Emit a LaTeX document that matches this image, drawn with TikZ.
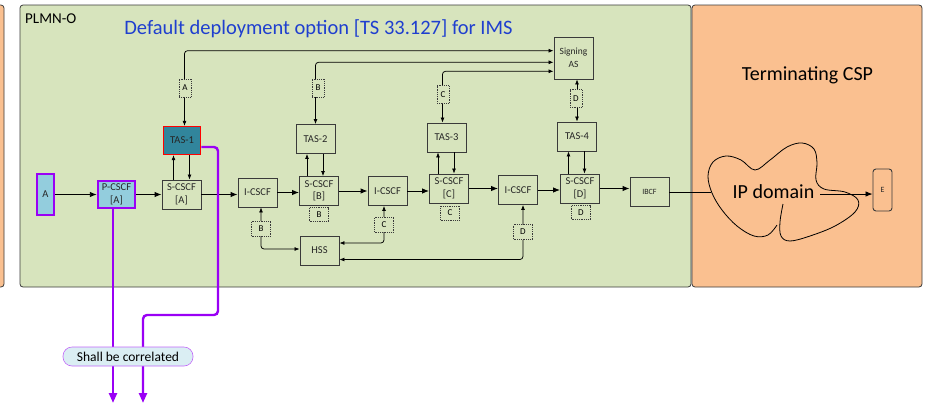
\documentclass[tikz,border=0pt]{standalone}
\usepackage{fontspec}
\setmainfont{Carlito}
\usepackage{xcolor}
\usetikzlibrary{arrows.meta,calc}
\definecolor{plmngreen}{HTML}{D7E4BD}
\definecolor{cspor}{HTML}{FAC090}
\definecolor{titleblue}{HTML}{1F3FCF}
\definecolor{ueblue}{HTML}{93CDDD}
\definecolor{tasteal}{HTML}{31859C}
\definecolor{lipurple}{HTML}{9A00F5}
\definecolor{noteblue}{HTML}{DAEEF3}
\definecolor{edge}{HTML}{3A3A3A}

\begin{document}
\begin{tikzpicture}[
  x=1pt,
  y=-1pt,
  box/.style={draw=edge, line width=0.9pt, minimum width=39pt, minimum height=29pt, inner sep=0pt, align=center, text=black!85, font=\fontsize{10.5}{12.5}\selectfont},
  lblv/.style={draw=edge, densely dotted, line width=0.8pt, fill=plmngreen, minimum width=12pt, minimum height=18pt, inner sep=0pt, font=\fontsize{9}{9}\selectfont},
  lblh/.style={lblv, minimum width=19pt, minimum height=15pt},
  arr/.style={-{Latex[length=7pt,width=5.5pt]}, line width=0.9pt},
  link/.style={{Latex[length=5pt,width=4pt]}-{Latex[length=5pt,width=4pt]}, line width=0.75pt, rounded corners=3pt},
  sarr/.style={-{Latex[length=5pt,width=4pt]}, line width=0.75pt},
  pline/.style={draw=lipurple, line width=2.4pt, rounded corners=4pt, -{Triangle[length=10pt,width=8pt]}}
]
\useasboundingbox (0,0) rectangle (927,405);

\draw[fill=cspor, draw=edge, line width=0.8pt, rounded corners=3pt] (-20,5) rectangle (4,287);
\draw[fill=plmngreen, draw=edge, line width=0.8pt, rounded corners=3pt] (20,5) rectangle (691,287);
\draw[fill=cspor, draw=edge, line width=0.8pt, rounded corners=3pt] (692,5) rectangle (922,287);

\node[anchor=base west, inner sep=0pt, font=\fontsize{15}{18}\selectfont] (plmn) at (25,23) {PLMN-O};
\node[anchor=base, inner sep=0pt, text=titleblue, font=\fontsize{20.5}{24}\selectfont] (title) at (318.5,34) {Default deployment option [TS 33.127] for IMS};
\node[anchor=base, inner sep=0pt, font=\fontsize{20}{24}\selectfont] (term) at (807.5,80) {Terminating CSP};

\node[box, draw=lipurple, line width=2.4pt, fill=ueblue, minimum width=17pt, minimum height=40.5pt] (ueA) at (45.5,194.5) {A};
\node[box, draw=lipurple, line width=2.4pt, fill=ueblue, minimum width=37pt, minimum height=27pt] (pcscf) at (116.5,194.5) {P-CSCF\\{[A]}};
\node[box] (scA) at (181.5,194.5) {S-CSCF\\{[A]}};
\node[box, draw=red, line width=1.3pt, fill=tasteal, minimum width=37.5pt, minimum height=28pt] (tas1) at (182,140.5) {TAS-1};
\node[box] (icA) at (257.5,192.5) {I-CSCF};
\node[box] (scB) at (319,191) {S-CSCF\\{[B]}};
\node[box] (tas2) at (315.5,139) {TAS-2};
\node[box] (icB) at (387.5,191) {I-CSCF};
\node[box] (scC) at (449,188.5) {S-CSCF\\{[C]}};
\node[box] (tas3) at (446.5,137.5) {TAS-3};
\node[box] (icC) at (518,190) {I-CSCF};
\node[box] (scD) at (580,188.5) {S-CSCF\\{[D]}};
\node[box] (tas4) at (577,136.5) {TAS-4};
\node[box, minimum height=42pt, font=\fontsize{9.5}{13}\selectfont] (sas) at (573.5,58) {Signing\\AS};
\node[box, font=\fontsize{8}{9}\selectfont] (ibcf) at (649.5,192) {IBCF};
\node[box] (hss) at (319.5,250.5) {HSS};
\node[box, rounded corners=3pt, minimum width=19pt, minimum height=42pt, font=\fontsize{8}{9}\selectfont] (ueE) at (882.5,190) {E};

\draw[line width=0.8pt] plot[smooth, tension=0.6] coordinates {(783,204) (780,222) (781,236) (790,241) (810,236) (835,226) (855,212) (858,200) (845,192) (824,189) (816,180) (817,163) (814,149) (802,143) (787,147) (770,160) (755,170) (741,160) (726,156) (713,162) (708,176) (712,193) (722,210) (737,226) (754,236) (768,235) (777,225)};
\node[anchor=base, inner sep=0pt, font=\fontsize{20}{24}\selectfont] (ipd) at (773.5,198) {IP domain};
\coordinate (cin) at (711,192);
\coordinate (cout) at (820,194);

\foreach \a/\b in {ueA/pcscf, pcscf/scA, scA/icA, icA/scB, scB/icB, icB/scC, scC/icC, icC/scD, scD/ibcf}
  \draw[arr] (\a.east) -- (\a.east -| \b.west);
\foreach \sc/\ta in {scA/tas1, scB/tas2, scC/tas3, scD/tas4} {
  \draw[sarr] ([xshift=-8.5pt]\ta.south |- \sc.north) -- ([xshift=-8.5pt]\ta.south);
  \draw[sarr] ([xshift=7.5pt]\ta.south) -- ([xshift=7.5pt]\ta.south |- \sc.north);
}
\draw[line width=0.8pt] (ibcf.east) -- (cin);
\draw[arr, line width=0.8pt] (cout) -- (cout -| ueE.west);

\draw[link] ([xshift=2.5pt]tas1.north) |- ([yshift=7.3pt]sas.west);
\draw[link] (tas2.north) |- ([yshift=-4.3pt]sas.west);
\draw[link] ([xshift=-4pt]tas3.north) |- ([yshift=-13.3pt]sas.west);
\draw[link] (tas4.north) -- (tas4.north |- sas.south);
\draw[link] ([xshift=3.5pt]icA.south) |- ([yshift=1.5pt]hss.west);
\draw[link] ([xshift=-3.5pt]icB.south) |- ([yshift=7.5pt]hss.east);
\draw[link] ([xshift=5pt]icC.south) |- ([yshift=-9pt]hss.east);

\node[lblv] (lA) at (185,88) {A};
\node[lblv] (lB) at (318,88) {B};
\node[lblv] (lC) at (443,94.5) {C};
\node[lblv] (lD) at (576,98.5) {D};
\node[lblh] (hB) at (261,228.5) {B};
\node[lblh] (hC) at (384,224.5) {C};
\node[lblh] (hD) at (523,232) {D};
\node[lblh, minimum height=14pt] (sB) at (319,214.5) {B};
\node[lblh, minimum height=14pt] (sC) at (450,213) {C};
\node[lblh, minimum height=14pt] (sD) at (581,212.5) {D};

\coordinate (pend1) at (113,403);
\coordinate (pend2) at (143,403);
\coordinate (pbend) at (218,315);
\draw[pline] (pcscf.south -| pend1) -- (pend1);
\draw[pline] ([yshift=-6.5pt]tas1.east) -| (pbend) -| (pend2);
\node[draw=lipurple!60, line width=0.6pt, fill=noteblue, rounded corners=9pt, minimum width=130pt, minimum height=19pt, inner sep=0pt, font=\fontsize{13.5}{15}\selectfont] (corr) at (128,356.5) {Shall be correlated};
\end{tikzpicture}
\end{document}
